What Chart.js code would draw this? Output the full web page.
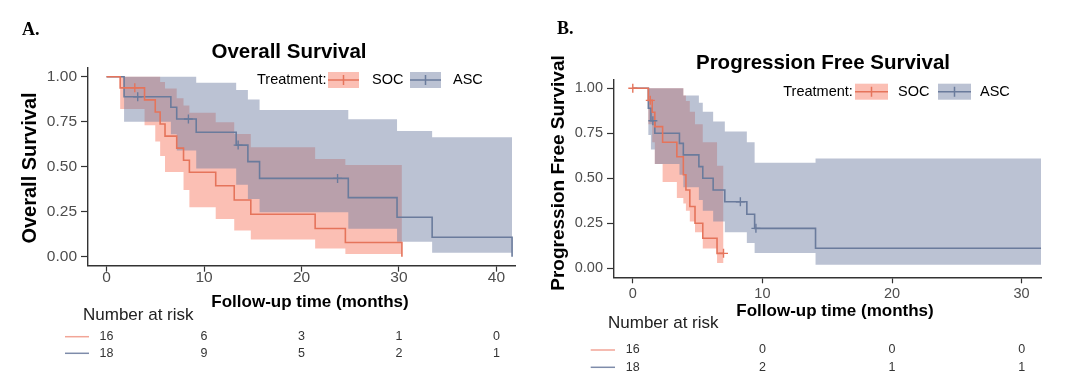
<!DOCTYPE html>
<html>
<head>
<meta charset="utf-8">
<script src="https://cdn.jsdelivr.net/npm/chart.js@4.4.0/dist/chart.umd.min.js"></script>
<style>
  body { margin: 0; background: #fff; }
  #wrap { position: relative; width: 1080px; height: 384px; }
  canvas { position: absolute; top: 0; }
</style>
</head>
<body>
<div id="wrap">
  <canvas id="os" width="540" height="384" style="left:0"></canvas>
  <canvas id="pfs" width="540" height="384" style="left:540px"></canvas>
</div>
<script>
// ---- Overall survival (A) ----
const osSocTime  = [0, 1.4, 3.9, 5.0, 5.5, 6.0, 7.2, 7.9, 8.5, 11.2, 13.1, 14.8, 21.4, 24.5, 30.3];
const osSocSurv  = [1, 0.938, 0.871, 0.804, 0.737, 0.670, 0.603, 0.536, 0.469, 0.394, 0.315, 0.236, 0.157, 0.079, 0.0];
const osSocUpper = [1, 1, 1, 1, 0.97, 0.935, 0.88, 0.84, 0.80, 0.747, 0.682, 0.608, 0.543, 0.51, 0.51];
const osSocLower = [1, 0.82, 0.73, 0.64, 0.56, 0.47, 0.47, 0.37, 0.275, 0.21, 0.145, 0.095, 0.045, 0.015, 0.015];
const osSocCensorTime = [2.9];
const osSocCensorSurv = [0.938];

const osAscTime  = [0, 1.8, 6.6, 7.2, 9.2, 13.3, 14.5, 15.7, 24.8, 29.8, 33.4, 41.6];
const osAscSurv  = [1, 0.889, 0.83, 0.765, 0.691, 0.62, 0.528, 0.435, 0.328, 0.219, 0.108, 0.0];
const osAscUpper = [1, 1, 1, 1, 0.967, 0.926, 0.874, 0.815, 0.763, 0.698, 0.663, 0.663];
const osAscLower = [1, 0.75, 0.68, 0.59, 0.49, 0.40, 0.32, 0.247, 0.155, 0.083, 0.022, 0.022];
const osAscCensorTime = [3.2, 8.4, 13.5, 23.7];
const osAscCensorSurv = [0.889, 0.765, 0.62, 0.435];

const osTicks = [0, 10, 20, 30, 40];
const osRiskSoc = [16, 6, 3, 1, 0];
const osRiskAsc = [18, 9, 5, 2, 1];

// ---- Progression free survival (B) ----
const pfsSocTime  = [0, 1.2, 1.5, 1.7, 2.3, 3.4, 3.9, 4.1, 4.4, 4.8, 5.4, 6.5, 7.0];
const pfsSocSurv  = [1, 0.933, 0.867, 0.787, 0.70, 0.62, 0.52, 0.435, 0.343, 0.25, 0.167, 0.083, 0.083];
const pfsSocUpper = [1, 1, 1, 1, 1, 1, 0.96, 0.93, 0.87, 0.80, 0.70, 0.57, 0.57];
const pfsSocLower = [1, 0.80, 0.70, 0.58, 0.48, 0.39, 0.36, 0.32, 0.26, 0.20, 0.11, 0.03, 0.03];
const pfsSocCensorTime = [0, 1.35, 7.0];
const pfsSocCensorSurv = [1, 0.933, 0.083];

const pfsAscTime  = [0, 1.2, 1.4, 1.7, 3.6, 3.9, 5.1, 5.4, 6.2, 7.1, 8.8, 9.4, 14.1, 31.5];
const pfsAscSurv  = [1, 0.889, 0.82, 0.75, 0.694, 0.63, 0.565, 0.50, 0.435, 0.37, 0.30, 0.222, 0.111, 0.111];
const pfsAscUpper = [1, 1, 1, 1, 1, 0.96, 0.92, 0.87, 0.815, 0.76, 0.70, 0.587, 0.61, 0.61];
const pfsAscLower = [1, 0.74, 0.66, 0.58, 0.52, 0.45, 0.38, 0.32, 0.26, 0.20, 0.14, 0.085, 0.02, 0.02];
const pfsAscCensorTime = [1.55, 8.3, 9.5];
const pfsAscCensorSurv = [0.82, 0.37, 0.222];

const pfsTicks = [0, 10, 20, 30];
const pfsRiskSoc = [16, 0, 0, 0];
const pfsRiskAsc = [18, 2, 1, 1];

const yTicks = [0, 0.25, 0.5, 0.75, 1];

// Styles
const sans = '"Liberation Sans", Arial, sans-serif';
const serif = '"Liberation Serif", "DejaVu Serif", serif';
const socLine = '#E5745B', socFill = 'rgba(246,112,88,0.45)', socRisk = '#F2A597';
const ascLine = '#6A7B9C', ascFill = 'rgba(112,128,162,0.48)', ascRisk = '#7E8CAA';

function pts(t, v) {
    return t.map((x, i) => ({ x: x, y: v[i] }));
}

// legend key: band box + line + small censor tick
function drawKey(ctx, x, y, w, fill, line) {
    ctx.fillStyle = fill;
    ctx.fillRect(x, y - 8, w, 16);
    ctx.strokeStyle = line;
    ctx.lineWidth = 1.5;
    ctx.beginPath();
    ctx.moveTo(x, y); ctx.lineTo(x + w, y);
    ctx.moveTo(x + w / 2, y - 5); ctx.lineTo(x + w / 2, y + 5);
    ctx.stroke();
}

function kmChart(id, d, L) {
    const decor = {
        id: 'decor',
        afterDraw(chart) {
            const ctx = chart.ctx;
            const xs = chart.scales.x;
            ctx.save();
            ctx.textBaseline = 'middle';
            ctx.fillStyle = '#000';

            // panel letter
            ctx.font = 'bold 18px ' + serif;
            ctx.textAlign = 'left';
            ctx.fillText(L.letter, L.letterX, L.letterY);

            // title
            ctx.font = 'bold 20.5px ' + sans;
            ctx.textAlign = 'center';
            ctx.fillText(L.title, L.titleX, L.titleY);

            // axis titles
            ctx.font = 'bold 17px ' + sans;
            ctx.fillText('Follow-up time (months)', L.xTitleX, L.xTitleY);
            ctx.save();
            ctx.translate(L.yTitleX, L.yTitleY);
            ctx.rotate(-Math.PI / 2);
            ctx.font = 'bold ' + L.yTitleSize + 'px ' + sans;
            ctx.fillText(L.yTitle, 0, 0);
            ctx.restore();

            // legend
            ctx.font = '14.5px ' + sans;
            ctx.textAlign = 'left';
            ctx.fillStyle = '#000';
            ctx.fillText('Treatment:', L.legTreatX, L.legY);
            drawKey(ctx, L.socKeyX, L.legY, L.keyW, socFill, socLine);
            drawKey(ctx, L.ascKeyX, L.legY, L.keyW, ascFill, ascLine);
            ctx.fillStyle = '#000';
            ctx.fillText('SOC', L.socTextX, L.legY);
            ctx.fillText('ASC', L.ascTextX, L.legY);

            // risk table
            ctx.font = '17px ' + sans;
            ctx.fillStyle = '#222';
            ctx.fillText('Number at risk', L.nrX, L.nrY);
            const rows = [[d.riskSoc, socRisk], [d.riskAsc, ascRisk]];
            rows.forEach(([vals, col], r) => {
                const y = L.rowY[r];
                ctx.strokeStyle = col;
                ctx.lineWidth = 1.5;
                ctx.beginPath();
                ctx.moveTo(L.rowLineX[0], y); ctx.lineTo(L.rowLineX[1], y);
                ctx.stroke();
                ctx.font = '12.5px ' + sans;
                ctx.fillStyle = '#333';
                ctx.textAlign = 'center';
                vals.forEach((v, i) => ctx.fillText(String(v), xs.getPixelForValue(d.ticks[i]), y));
                ctx.textAlign = 'left';
            });
            ctx.restore();
        }
    };

    const band = { borderWidth: 0, borderColor: 'transparent', pointRadius: 0, stepped: true };
    const line = { borderWidth: 1.6, pointRadius: 0, stepped: true, fill: false };
    const mark = { showLine: false, pointStyle: 'cross', pointRadius: 4.5, borderWidth: 1.4 };

    return new Chart(document.getElementById(id), {
        type: 'line',
        data: {
            datasets: [
                { ...band, data: pts(d.socT, d.socHi), fill: '+1', backgroundColor: socFill, order: 4 },
                { ...band, data: pts(d.socT, d.socLo), fill: false, order: 4 },
                { ...band, data: pts(d.ascT, d.ascHi), fill: '+1', backgroundColor: ascFill, order: 3 },
                { ...band, data: pts(d.ascT, d.ascLo), fill: false, order: 3 },
                { ...line, data: pts(d.socT, d.socS), borderColor: socLine, order: 2 },
                { ...line, data: pts(d.ascT, d.ascS), borderColor: ascLine, order: 2 },
                { ...mark, data: pts(d.socCT, d.socCS), borderColor: socLine, order: 1 },
                { ...mark, data: pts(d.ascCT, d.ascCS), borderColor: ascLine, order: 1 }
            ]
        },
        options: {
            responsive: false,
            animation: false,
            devicePixelRatio: 1,
            layout: { padding: { left: 0, top: L.top, right: 540 - L.right, bottom: 384 - L.bottom - 32 } },
            plugins: { legend: { display: false }, tooltip: { enabled: false } },
            scales: {
                x: {
                    type: 'linear', min: L.xMin, max: L.xMax,
                    afterBuildTicks: s => { s.ticks = d.ticks.map(v => ({ value: v })); },
                    afterFit: s => { s.height = 32; },
                    grid: { drawOnChartArea: false, tickLength: 6, tickColor: '#333', tickWidth: 1.2 },
                    border: { color: '#333', width: 1.4 },
                    ticks: { color: '#4d4d4d', font: { family: sans, size: L.tickSize }, padding: L.xTickPad, maxRotation: 0, autoSkip: false }
                },
                y: {
                    min: -0.05, max: 1.05,
                    afterBuildTicks: s => { s.ticks = yTicks.map(v => ({ value: v })); },
                    afterFit: s => { s.width = L.left; },
                    grid: { drawOnChartArea: false, tickLength: 7, tickColor: '#333', tickWidth: 1.2 },
                    border: { color: '#333', width: 1.4 },
                    ticks: { color: '#4d4d4d', font: { family: sans, size: L.tickSize }, padding: 4, callback: v => v.toFixed(2) }
                }
            }
        },
        plugins: [decor]
    });
}

kmChart('os', {
    socT: osSocTime, socS: osSocSurv, socHi: osSocUpper, socLo: osSocLower,
    socCT: osSocCensorTime, socCS: osSocCensorSurv,
    ascT: osAscTime, ascS: osAscSurv, ascHi: osAscUpper, ascLo: osAscLower,
    ascCT: osAscCensorTime, ascCS: osAscCensorSurv,
    ticks: osTicks, riskSoc: osRiskSoc, riskAsc: osRiskAsc
}, {
    letter: 'A.', letterX: 22, letterY: 30,
    title: 'Overall Survival', titleX: 289, titleY: 52,
    yTitle: 'Overall Survival', yTitleX: 30, yTitleY: 168, yTitleSize: 20,
    xTitleX: 310, xTitleY: 302,
    left: 88, right: 515, top: 67.7, bottom: 265.7,
    xMin: -1.9, xMax: 41.9, tickSize: 15.5, xTickPad: -3,
    legY: 80, legTreatX: 257, socKeyX: 328, socTextX: 372, ascKeyX: 410, ascTextX: 453, keyW: 31,
    nrX: 83, nrY: 315, rowY: [336.7, 353.3], rowLineX: [65, 89]
});

kmChart('pfs', {
    socT: pfsSocTime, socS: pfsSocSurv, socHi: pfsSocUpper, socLo: pfsSocLower,
    socCT: pfsSocCensorTime, socCS: pfsSocCensorSurv,
    ascT: pfsAscTime, ascS: pfsAscSurv, ascHi: pfsAscUpper, ascLo: pfsAscLower,
    ascCT: pfsAscCensorTime, ascCS: pfsAscCensorSurv,
    ticks: pfsTicks, riskSoc: pfsRiskSoc, riskAsc: pfsRiskAsc
}, {
    letter: 'B.', letterX: 17, letterY: 29.5,
    title: 'Progression Free Survival', titleX: 283, titleY: 63,
    yTitle: 'Progression Free Survival', yTitleX: 18.5, yTitleY: 173, yTitleSize: 19,
    xTitleX: 295, xTitleY: 311.7,
    left: 74, right: 501.7, top: 79.3, bottom: 277.3,
    xMin: -1.45, xMax: 31.55, tickSize: 14.5, xTickPad: 2,
    legY: 91.7, legTreatX: 243.3, socKeyX: 315, socTextX: 358, ascKeyX: 398, ascTextX: 440, keyW: 33,
    nrX: 68, nrY: 323.3, rowY: [350, 367.3], rowLineX: [50.7, 75]
});
</script>
</body>
</html>
